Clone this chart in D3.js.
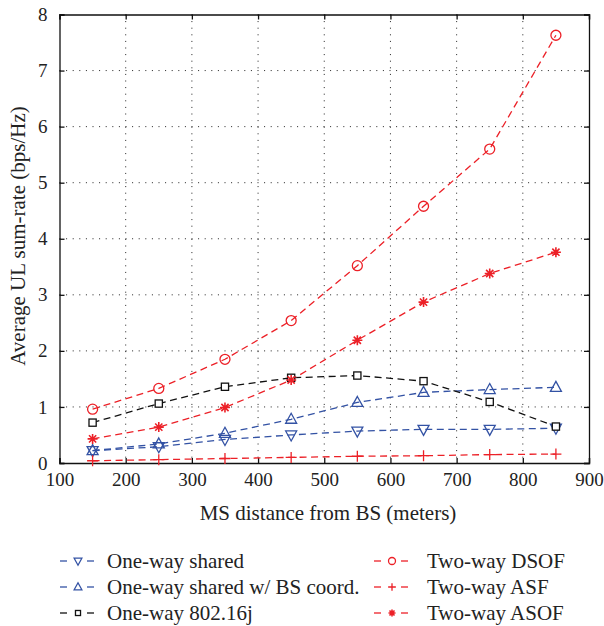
<!DOCTYPE html>
<html><head><meta charset="utf-8">
<script src="https://cdn.jsdelivr.net/npm/d3@7"></script>
<style>body{margin:0;background:#fff}svg{display:block}text{font-family:"Liberation Serif","DejaVu Serif",serif;fill:#222}</style>
</head><body><div id="c"></div>
<script>
const distances = [150, 250, 350, 450, 550, 650, 750, 850];
const oneWayShared = [0.22, 0.29, 0.42, 0.50, 0.57, 0.60, 0.60, 0.62];
const oneWayCoord = [0.22, 0.34, 0.53, 0.78, 1.08, 1.26, 1.31, 1.35];
const oneWay80216j = [0.72, 1.06, 1.36, 1.52, 1.56, 1.46, 1.09, 0.65];
const twoWayDSOF = [0.96, 1.33, 1.85, 2.54, 3.52, 4.58, 5.60, 7.63];
const twoWayASF = [0.04, 0.06, 0.08, 0.10, 0.12, 0.13, 0.15, 0.16];
const twoWayASOF = [0.43, 0.64, 0.99, 1.48, 2.19, 2.87, 3.38, 3.76];
const xTicks = [100, 200, 300, 400, 500, 600, 700, 800, 900];
const yTicks = [0, 1, 2, 3, 4, 5, 6, 7, 8];
const seriesNames = ["One-way shared", "One-way shared w/ BS coord.", "One-way 802.16j", "Two-way DSOF", "Two-way ASF", "Two-way ASOF"];

const W = 604, H = 626;
const L = 59.5, R = 589, T = 14.5, B = 463;
const blue = "#3352a4", red = "#ec2027", black = "#111";
const series = [
  {name: seriesNames[0], values: oneWayShared, color: blue, marker: "tdown"},
  {name: seriesNames[1], values: oneWayCoord, color: blue, marker: "tup"},
  {name: seriesNames[2], values: oneWay80216j, color: black, marker: "square"},
  {name: seriesNames[3], values: twoWayDSOF, color: red, marker: "circle"},
  {name: seriesNames[4], values: twoWayASF, color: red, marker: "plus"},
  {name: seriesNames[5], values: twoWayASOF, color: red, marker: "star"}
];

const svg = d3.select("#c").append("svg").attr("width", W).attr("height", H);
const x = d3.scaleLinear().domain([100, 900]).range([L, R]);
const y = d3.scaleLinear().domain([0, 8]).range([B, T]);

// grid
const g = svg.append("g");
g.selectAll(".gx").data(xTicks.slice(1, -1)).enter().append("line")
  .attr("x1", d => x(d)).attr("x2", d => x(d)).attr("y1", T).attr("y2", B)
  .attr("stroke", "#222").attr("stroke-width", 1).attr("stroke-dasharray", "1,5.6");
g.selectAll(".gy").data(yTicks.slice(1, -1)).enter().append("line")
  .attr("y1", d => y(d)).attr("y2", d => y(d)).attr("x1", L).attr("x2", R)
  .attr("stroke", "#222").attr("stroke-width", 1).attr("stroke-dasharray", "1,5.6");

// axes
const ax = svg.append("g").attr("transform", `translate(0,${B})`)
  .call(d3.axisBottom(x).tickValues(xTicks).tickSize(-5).tickPadding(10).tickFormat(d3.format("d")));
const axT = svg.append("g").attr("transform", `translate(0,${T})`)
  .call(d3.axisTop(x).tickValues(xTicks).tickSize(-5).tickFormat(""));
const ay = svg.append("g").attr("transform", `translate(${L},0)`)
  .call(d3.axisLeft(y).tickValues(yTicks).tickSize(-5).tickPadding(12).tickFormat(d3.format("d")));
const ayR = svg.append("g").attr("transform", `translate(${R},0)`)
  .call(d3.axisRight(y).tickValues(yTicks).tickSize(-5).tickFormat(""));
[ax, axT, ay, ayR].forEach(a => {
  a.select(".domain").attr("stroke", "#111").attr("stroke-width", 1.3);
  a.selectAll(".tick line").attr("stroke", "#111").attr("stroke-width", 1.3);
  a.selectAll("text").style("font-family", '"Liberation Serif",serif').style("font-size", "19px").attr("fill", "#222");
});

// axis labels
svg.append("text").attr("x", 328).attr("y", 520).attr("text-anchor", "middle")
  .style("font-size", "21px").text("MS distance from BS (meters)");
svg.append("text").attr("transform", `translate(25,236) rotate(-90)`).attr("text-anchor", "middle")
  .style("font-size", "21px").text("Average UL sum-rate (bps/Hz)");

function drawMarker(sel, type, cx, cy, s, color) {
  const gg = sel.append("g").attr("transform", `translate(${cx},${cy})`)
    .attr("fill", "none").attr("stroke", color).attr("stroke-width", 1.3);
  if (type === "circle") gg.append("circle").attr("r", s * 0.5);
  else if (type === "square") gg.append("rect").attr("x", -s * 0.36).attr("y", -s * 0.36).attr("width", s * 0.72).attr("height", s * 0.72).attr("fill", "#fff");
  else if (type === "tup") gg.append("path").attr("d", `M0,${-s * 0.6}L${s * 0.55},${s * 0.4}L${-s * 0.55},${s * 0.4}Z`);
  else if (type === "tdown") gg.append("path").attr("d", `M0,${s * 0.6}L${s * 0.55},${-s * 0.4}L${-s * 0.55},${-s * 0.4}Z`);
  else if (type === "plus") gg.append("path").attr("d", `M${-s * 0.55},0H${s * 0.55}M0,${-s * 0.55}V${s * 0.55}`);
  else if (type === "star") {
    const r = s * 0.5, q = r * 0.72;
    gg.append("path").attr("stroke-width", 1.6).attr("d", `M${-r},0H${r}M0,${-r}V${r}M${-q},${-q}L${q},${q}M${-q},${q}L${q},${-q}`);
  }
}

const line = d3.line().x(d => x(d[0])).y(d => y(d[1]));
series.forEach(s => {
  const pts = distances.map((d, i) => [d, s.values[i]]);
  svg.append("path").datum(pts).attr("d", line).attr("fill", "none")
    .attr("stroke", s.color).attr("stroke-width", 1.3).attr("stroke-dasharray", "7,4.5");
});
series.forEach(s => {
  distances.forEach((d, i) => drawMarker(svg, s.marker, x(d), y(s.values[i]), 10, s.color));
});

// legend
const legRows = [561, 587, 613];
series.forEach((s, i) => {
  const col = i < 3 ? 0 : 1;
  const ly = legRows[i % 3];
  const mx = col === 0 ? 78 : 392;
  const lg = svg.append("g");
  lg.append("line").attr("x1", mx - 18).attr("x2", mx - 11).attr("y1", ly).attr("y2", ly).attr("stroke", s.color).attr("stroke-width", 1.3);
  lg.append("line").attr("x1", mx + 9).attr("x2", mx + 16).attr("y1", ly).attr("y2", ly).attr("stroke", s.color).attr("stroke-width", 1.3);
  drawMarker(lg, s.marker, mx, ly, 7, s.color);
  lg.append("text").attr("x", col === 0 ? 107 : 427).attr("y", ly).attr("dy", "0.33em")
    .style("font-size", "21px").text(s.name);
});
</script></body></html>
